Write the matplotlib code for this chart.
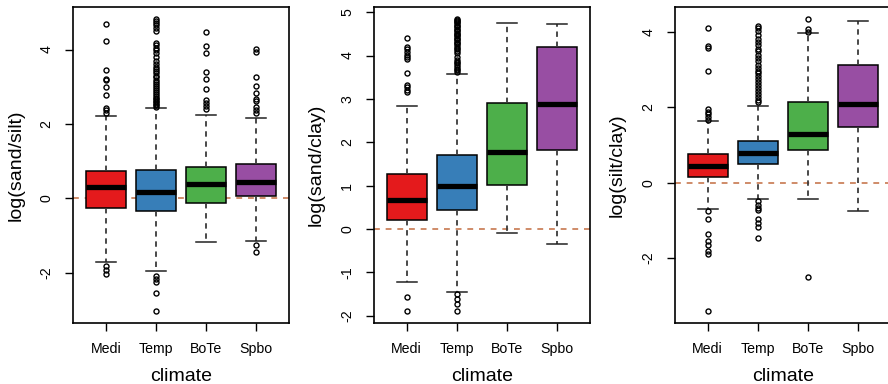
import matplotlib
matplotlib.use('Agg')
import matplotlib.pyplot as plt

plt.rcParams['font.family'] = ['Liberation Sans', 'DejaVu Sans']

climates = ['Medi', 'Temp', 'BoTe', 'Spbo']
colors = ['#E41A1C', '#377EB8', '#4DAF4A', '#984EA3']

# box stats per climate: q1, median, q3, lower whisker, upper whisker
sand_silt_q1 = [-0.27, -0.34, -0.13, 0.06]
sand_silt_med = [0.29, 0.17, 0.39, 0.44]
sand_silt_q3 = [0.74, 0.76, 0.84, 0.91]
sand_silt_lo = [-1.71, -1.95, -1.18, -1.14]
sand_silt_hi = [2.22, 2.42, 2.25, 2.16]
sand_silt_out = [
    [4.70, 4.23, 3.45, 3.21, 3.17, 2.99, 2.79, 2.43, 2.38, 2.30, -1.83, -1.94, -2.05],
    [4.83, 4.78, 4.72, 4.66, 4.58, 4.51, 4.18, 4.11, 4.05, 3.98, 3.91, 3.80, 3.68,
     3.60, 3.54, 3.48, 3.42, 3.36, 3.30, 3.25, 3.19, 3.13, 3.07, 3.02, 2.96, 2.91,
     2.86, 2.81, 2.76, 2.71, 2.66, 2.62, 2.58, 2.54, 2.50, 2.46,
     -2.08, -2.17, -2.26, -2.54, -3.04],
    [4.47, 4.09, 3.91, 3.39, 3.21, 2.94, 2.63, 2.56, 2.47, 2.40],
    [4.02, 3.94, 3.26, 3.03, 2.83, 2.67, 2.61, 2.46, 2.38, 2.30, -1.27, -1.45],
]

sand_clay_q1 = [0.21, 0.44, 1.01, 1.81]
sand_clay_med = [0.67, 0.99, 1.78, 2.89]
sand_clay_q3 = [1.26, 1.70, 2.90, 4.20]
sand_clay_lo = [-1.23, -1.45, -0.10, -0.35]
sand_clay_hi = [2.84, 3.57, 4.76, 4.72]
sand_clay_out = [
    [4.40, 4.20, 4.14, 4.08, 4.02, 3.96, 3.91, 3.59, 3.33, 3.28, 3.21, 3.16, -1.56, -1.90],
    [4.85, 4.83, 4.80, 4.77, 4.74, 4.71, 4.68, 4.65, 4.62, 4.59, 4.56, 4.53, 4.50,
     4.47, 4.44, 4.41, 4.38, 4.35, 4.32, 4.29, 4.26, 4.22, 4.18, 4.14, 4.10, 4.05,
     3.96, 3.90, 3.86, 3.82, 3.78, 3.74, 3.70, 3.66, 3.62,
     -1.49, -1.62, -1.73, -1.90],
    [],
    [],
]

silt_clay_q1 = [0.16, 0.50, 0.88, 1.48]
silt_clay_med = [0.44, 0.80, 1.30, 2.10]
silt_clay_q3 = [0.76, 1.11, 2.13, 3.11]
silt_clay_lo = [-0.70, -0.42, -0.42, -0.76]
silt_clay_hi = [1.63, 2.03, 3.96, 4.28]
silt_clay_out = [
    [4.10, 3.63, 3.56, 2.96, 1.95, 1.87, 1.81, 1.73, 1.66,
     -0.75, -0.97, -1.37, -1.55, -1.66, -1.82, -1.88, -3.41],
    [4.16, 4.10, 4.02, 3.92, 3.82, 3.72, 3.64, 3.55, 3.48, 3.40, 3.30, 3.22, 3.12,
     3.04, 2.96, 2.90, 2.82, 2.74, 2.66, 2.58, 2.50, 2.42, 2.34, 2.27, 2.20, 2.14,
     -0.49, -0.60, -0.66, -0.73, -0.96, -1.08, -1.17, -1.46],
    [4.35, 4.07, 4.00, -2.50],
    [],
]

panels = [
    ('log(sand/silt)', sand_silt_q1, sand_silt_med, sand_silt_q3, sand_silt_lo, sand_silt_hi, sand_silt_out, [-2, 0, 2, 4]),
    ('log(sand/clay)', sand_clay_q1, sand_clay_med, sand_clay_q3, sand_clay_lo, sand_clay_hi, sand_clay_out, [-2, -1, 0, 1, 2, 3, 4, 5]),
    ('log(silt/clay)', silt_clay_q1, silt_clay_med, silt_clay_q3, silt_clay_lo, silt_clay_hi, silt_clay_out, [-2, 0, 2, 4]),
]

fig = plt.figure(figsize=(8.88, 3.84), dpi=100)
lefts = [0.0822, 0.4208, 0.7598]

for left, (ylab, q1, med, q3, lo, hi, out, yt) in zip(lefts, panels):
    ax = fig.add_axes([left, 0.1589, 0.2432, 0.8229])
    stats = []
    for i in range(4):
        stats.append(dict(q1=q1[i], med=med[i], q3=q3[i], whislo=lo[i], whishi=hi[i], fliers=out[i]))
    bp = ax.bxp(stats, positions=[1, 2, 3, 4], widths=0.8, capwidths=0.4, patch_artist=True,
                boxprops=dict(edgecolor='black', linewidth=1.1),
                medianprops=dict(color='black', linewidth=3.8, solid_capstyle='butt'),
                whiskerprops=dict(color='#3a3a3a', linewidth=1.3, linestyle=(0, (3, 2.6))),
                capprops=dict(color='#222222', linewidth=1.1),
                flierprops=dict(marker='o', markersize=3.6, markerfacecolor='none',
                                markeredgecolor='black', markeredgewidth=1.0))
    for patch, c in zip(bp['boxes'], colors):
        patch.set_facecolor(c)
    ax.axhline(0, color='#CF8B68', linewidth=1.4, linestyle=(0, (3, 3)), zorder=0.5)

    # R style 4% expansion of the data range
    allv = lo + hi + [v for o in out for v in o]
    vmin, vmax = min(allv), max(allv)
    pad = (vmax - vmin) * 0.04
    ax.set_ylim(vmin - pad, vmax + pad)
    ax.set_xlim(0.5 - 0.16, 4.5 + 0.16)

    ax.set_xticks([1, 2, 3, 4])
    ax.set_xticklabels(climates)
    ax.set_yticks(yt)
    ax.set_yticklabels([str(v) for v in yt], rotation=90, va='center')
    ax.tick_params(axis='both', length=6, width=1, labelsize=10.2, pad=8, colors='black')
    for s in ax.spines.values():
        s.set_linewidth(1.2)
    ax.set_xlabel('climate', fontsize=14, labelpad=8)
    ax.set_ylabel(ylab, fontsize=14, labelpad=11)

fig.savefig('out.png', dpi=100)
